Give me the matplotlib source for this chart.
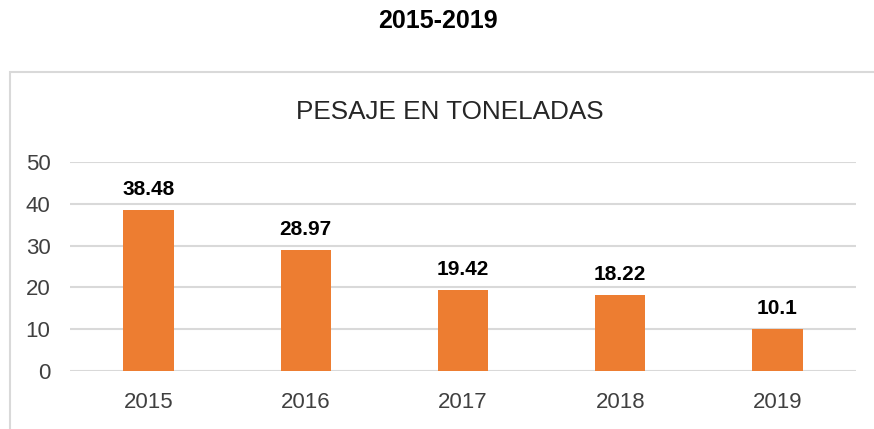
import matplotlib
matplotlib.use("Agg")
import matplotlib.pyplot as plt
from matplotlib.patches import Rectangle

years = ['2015', '2016', '2017', '2018', '2019']
pesaje = [38.48, 28.97, 19.42, 18.22, 10.1]
labels = ['38.48', '28.97', '19.42', '18.22', '10.1']
yticks = [0, 10, 20, 30, 40, 50]

plt.rcParams['font.family'] = ['Liberation Sans', 'DejaVu Sans']

fig = plt.figure(figsize=(8.74, 4.29), dpi=100)
W, H = 874, 429

# chart frame (light gray border)
fig.patches.append(Rectangle((10 / W, -0.1), 2, (H - 72) / H + 0.1, transform=fig.transFigure,
                             fill=False, edgecolor='#D9D9D9', lw=1.5))

fig.text(438 / W, 1 - 21 / H, '2015-2019', ha='center', va='center',
         fontsize=18, fontweight='bold')

ax = fig.add_axes([70 / W, 58 / H, 786 / W, 209 / H])
x = range(len(years))
ax.bar(x, pesaje, width=0.32, color='#ED7D31', zorder=3)
for i, v in enumerate(pesaje):
    ax.text(i, v + 2.6, labels[i], ha='center', va='bottom', fontsize=15, fontweight='bold')

ax.set_xlim(-0.5, len(years) - 0.5)
ax.set_ylim(0, 50)
ax.set_yticks(yticks)
ax.set_xticks(list(x))
ax.set_xticklabels(years)
ax.grid(axis='y', color='#D9D9D9', lw=1.5, zorder=0)
ax.tick_params(length=0, labelsize=16, colors='#404040')
ax.tick_params(axis='x', pad=15)
ax.tick_params(axis='y', pad=14)
for s in ax.spines.values():
    s.set_visible(False)

fig.text(450 / W, 1 - 112 / H, 'PESAJE EN TONELADAS', ha='center', va='center',
         fontsize=18.8, color='#262626')

fig.savefig('out.png', dpi=100)
